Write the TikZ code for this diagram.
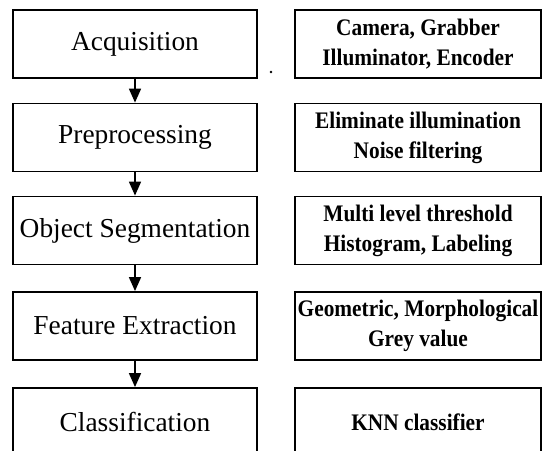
\documentclass[tikz,border=0pt]{standalone}
\usepackage{fontspec}
\setmainfont{Liberation Serif}
\newfontfamily\narrowserif[FakeStretch=0.9]{Liberation Serif}
\usetikzlibrary{arrows.meta}

\begin{document}
\begin{tikzpicture}[x=1bp,y=-1bp]

      \useasboundingbox (0,0) rectangle (549,451);

      % processing stages
      \begin{scope}[every node/.style={draw,line width=1.8bp,minimum width=244bp,minimum height=68bp,
          inner sep=0pt,font=\fontsize{27.5}{30}\selectfont}]
        \node (1) at (135,44)    {Acquisition};
        \node (2) at (135,137.5) {Preprocessing};
        \node (3) at (135,230.5) {Object Segmentation};
        \node (4) at (135,326)   {Feature Extraction};
        \node (5) at (135,422)   {Classification};
      \end{scope}

      % methods used in each stage
      \begin{scope}[every node/.style={draw,line width=1.8bp,minimum width=246bp,minimum height=68bp,
          inner sep=0pt,align=center,font=\narrowserif\fontsize{23.8}{30}\selectfont\bfseries}]
        \node (m1) at (418,44)    {Camera, Grabber\\Illuminator, Encoder};
        \node (m2) at (418,137.5) {Eliminate illumination\\Noise filtering};
        \node (m3) at (418,230.5) {Multi level threshold\\Histogram, Labeling};
        \node (m4) at (418,326)   {Geometric, Morphological\\Grey value};
        \node (m5) at (418,422)   {KNN classifier};
      \end{scope}

      \begin{scope}[every edge/.style={draw,line width=1.6bp,-{Triangle[width=12bp,length=14bp]}}]
        \path (1) edge (2);
        \path (2) edge (3);
        \path (3) edge (4);
        \path (4) edge (5);
      \end{scope}

      \fill (271,72) circle (1.3bp);

    \end{tikzpicture}
\end{document}
